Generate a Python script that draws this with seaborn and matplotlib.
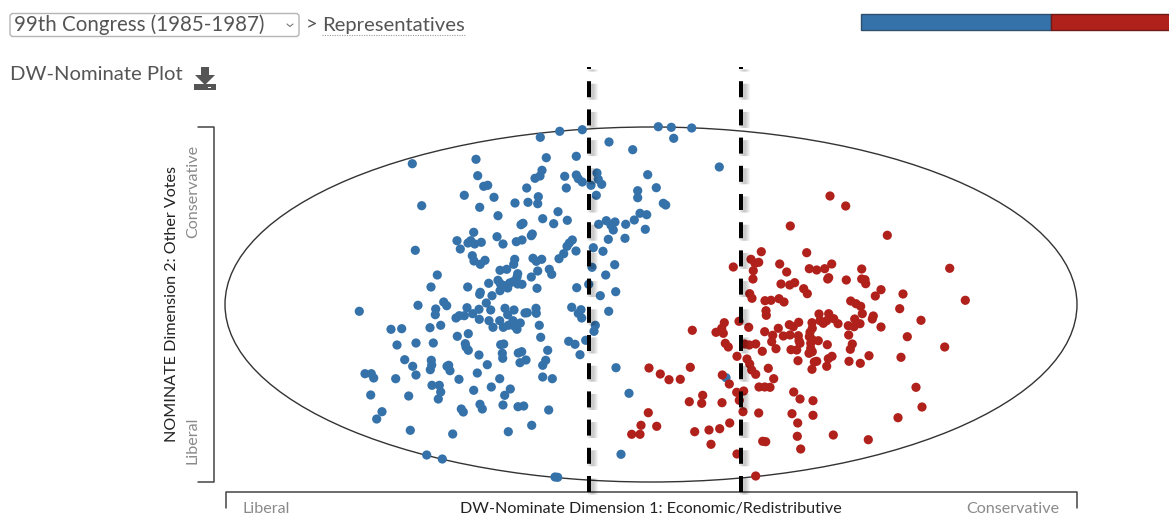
import numpy as np
import pandas as pd
import seaborn as sns
import matplotlib.pyplot as plt
import matplotlib.patheffects as pe
from matplotlib.patches import Ellipse, FancyBboxPatch, Polygon, Rectangle

# scores, in picture units from the centre of the ellipse
dem_read_1 = [-238.7,-175,-110.7,-91.3,-68.7,-42,-18.3,-104.7,-74.7,-173.3,-167.3,-163.3,-109,-111,-116,-86.3,-74.7,-72.7,-68.7,-54,
    -52.7,-49.3,-60,-84.7,-124.3,-186.7,-157,-229.3,-171.3,-136,-123,-112.7,-113.3,-54.7,-13.3,-13.3,-93,-153,-108.3,-83.7,
    -97.3,-130,-128,-52.3,-44.7,-36,-40,-37.7,-25.3,-16.7,-11,-177.3,-194,-183,-180.3,-176.3,-169.7,-154,-148,-134.7,
    -129,-119.7,-118.7,-78.7,-81.7,-84,-42.7,-26,-190.7,-235.7,-57.7,-75,-48,-87.3,-92,-178.7,-177,-170.7,-166,-136.3,
    -137.3,-118,-114.7,-109.3,-59,-36.3,-101.7,-99.3,-151,-144.3,-113.3,-213.7,-133.3,-134,-119.7,-45.3,-153,-162.3,-150.7,-146,
    -141.3,-138,-133.3,-129,-143.3,-151,-220,-183.3,-114,-74.3,-62.3,-50.7,-35.3,-170.7,-171.3,-159,-164.7,-233,-207.3,-204.3,
    -291.7,-215.3,-215.7,-184,-172,-160.3,-146,-137,-143.3,-115,-114.7,-126,-123.7,-79.3,-70,-72.7,-69.3,-42.3,-195,-191.7,
    -186.7,-178.3,-171.7,-162,-151.3,-138,-130.7,-142.7,-147.7,-158,-136.7,-134,-111.7,-55.7,-57,-260,-249.3,-221,-210.3,-182.7,
    -193.7,-110.3,-254,-235,-217.7,-185.7,-185,-182.7,-150.3,-147.3,-82.3,-76,-65.3,-103.3,-172,-148.7,-148.3,-132.7,-129.3,-71,
    -246.3,-219.7,-219.3,-163.7,-131,-125,-105.3,-108.3,-238.3,-220.7,-202.3,-204,-201,-35,-286,-279.7,-277.3,-255.3,-235,-173.7,
    -192,-151.3,-108.3,-98.7,-219,-211.7,-210.3,-177.3,-159.7,-140.7,-22,-280.3,-242.3,-212.7,-146.3,-171,-168.7,-148,-133,-127.3,
    -189.7,-187.7,-102.3,-269,-274.3,-119.3,-240.7,-198.3,-142.7,-224.3,-208.7,-96,-93.3,-30,7.3,20.3,40.7,22.7,-3.3,68.3,
    5.3,12.3,14.7,-4.3,-5.7,75]
dem_read_2 = [140.8,145.2,167.2,173.2,174.8,162.5,154.8,146.8,148.2,128.8,118.2,119.2,134.2,128.5,126.2,128.2,129.5,125.8,122.5,131.5,
    125.2,120.2,119.2,116.5,116.5,109.2,107.2,98.8,97.2,101.5,102.2,107.8,100.8,109.2,113.8,106.8,92.8,88.8,85.8,84.2,
    80.8,79.8,81.2,80.2,83.8,82.5,79.2,74.5,80.2,84.5,91.2,72.2,63.8,61.5,63.8,60.5,62.2,67.8,60.5,62.8,
    64.5,68.8,70.5,64.5,61.5,58.2,65.2,66.2,55.5,54.2,56.8,53.5,53.2,50.8,45.8,48.8,43.5,40.2,44.2,45.2,
    40.2,46.2,43.2,45.2,37.2,39.8,35.2,30.2,34.2,35.2,33.5,29.5,30.8,27.5,27.5,29.5,24.2,21.2,20.8,18.8,
    21.5,22.8,20.5,20.2,16.5,13.8,17.5,17.5,16.2,16.8,20.2,8.8,12.8,12.2,10.2,8.8,1.5,-0.8,2.5,-1.2,
    -6.8,-4.5,-10.2,-3.2,-4.8,-5.5,-3.8,-5.5,-10.2,-3.8,-8.8,-8.5,-8.2,-2.8,-5.2,-8.8,-13.5,-6.8,-13.5,-11.2,
    -11.2,-9.2,-14.8,-16.2,-16.2,-16.2,-18.5,-20.8,-22.8,-22.8,-21.5,-24.8,-20.8,-20.8,-26.8,-24.8,-24.2,-23.2,-20.8,-29.2,
    -31.8,-32.8,-40.5,-38.5,-38.5,-39.2,-42.5,-45.8,-40.2,-39.5,-36.8,-39.8,-35.8,-45.8,-50.5,-48.8,-53.8,-48.5,-47.2,-50.2,
    -55.2,-55.8,-60.5,-60.2,-58.2,-55.5,-55.8,-60.8,-61.8,-65.2,-60.8,-61.8,-66.2,-63.2,-69.2,-69.2,-73.5,-74.2,-70.5,-68.5,
    -74.8,-74.2,-72.5,-74.2,-80.8,-80.8,-87.5,-85.8,-82.5,-84.5,-88.8,-90.5,-91.5,-94.5,-90.8,-99.8,-104.5,-100.5,-102.2,-101.5,
    -104.5,-107.5,-105.5,-107.2,-114.5,-120.8,-125.8,-129.5,-127.2,-150.5,-154.5,-172.5,-172.8,-149.8,177.8,177.2,176.5,166.2,129.8,137.5,
    116.8,101.2,99.5,89.8,75.2,-73.2]

rep_read_1 = [179,194.7,139.3,236.3,110.3,155.7,100,107.7,104,82.3,102.3,128.7,135.7,158.3,165.7,173.7,180.7,210.7,298.7,102,
    177.7,176.7,195.3,210.7,214,214.7,130,138.7,143.7,152.7,156.3,230,224.3,252,314.3,98.7,101,114,120,128,
    133,199.7,205,209.7,248.7,115,115.3,168,177.7,211.3,222.3,221.3,182.7,270,73.3,88,72.3,147.7,138.3,142.3,
    161,169,175.7,172.3,187,203.7,209,197.3,203,230,97.7,127.3,41.3,65,70.7,113.7,159,161.3,121.7,132.3,
    139,147.3,197.7,256.3,158.3,161,167.3,148,120.7,74.3,77.3,93.7,98.3,104.7,176.3,201.3,293.7,125,140,145.7,
    149,159.7,159.7,199.3,111.3,158,161.3,86,218,181,177.3,250,96,147,165.7,163.3,198,209.3,175.7,98.7,
    -2,39.3,117.3,100.7,161,9.3,71.3,104.7,18,29.3,122.7,78.3,108,113.7,119,265,142.7,85.7,92.7,51.7,
    149,162,38.3,50.7,71,88.3,271,-2.7,92,107.7,141,162,247,146.7,-10,5.7,78.7,68.7,58,43.7,
    -19.3,-11,146.3,182.3,217.3,111.7,114.7,60,149.7,86,104.7]
rep_read_2 = [108.5,98.5,78.5,69.2,52.8,51.8,45.2,42.2,41.2,37.5,33.8,40.5,32.5,35.8,34.5,35.8,40.5,35.5,36.2,25.5,
    26.8,25.5,24.5,25.5,24.8,20.8,20.5,19.5,21.8,15.8,10.8,14.8,8.5,10.5,4.2,10.8,6.2,3.8,4.2,5.8,
    2.5,3.5,0.8,-1.8,-4.2,-6.2,-10.8,-9.5,-9.2,-9.2,-11.5,-14.5,-14.2,-15.8,-18.2,-16.8,-28.8,-17.8,-20.2,-22.2,
    -18.2,-16.2,-16.2,-18.8,-19.2,-14.5,-19.2,-21.2,-22.2,-22.5,-22.8,-23.8,-25.8,-27.8,-23.8,-27.2,-27.8,-23.8,-30.8,-31.5,
    -30.5,-31.2,-30.5,-32.2,-32.2,-34.8,-36.2,-36.2,-37.2,-38.8,-42.5,-39.5,-40.5,-39.5,-40.2,-39.5,-42.5,-44.2,-45.2,-45.5,
    -38.8,-38.8,-43.8,-44.8,-46.8,-48.8,-47.2,-51.8,-51.2,-51.8,-54.2,-52.8,-54.5,-56.2,-56.8,-57.5,-56.8,-58.8,-61.8,-59.5,
    -63.5,-62.8,-63.8,-65.5,-64.8,-69.5,-70.5,-69.8,-75.2,-74.8,-74.2,-79.5,-82.5,-82.5,-82.8,-82.8,-87.5,-87.8,-86.5,-90.8,
    -94.5,-96.2,-97.2,-98.8,-98.2,-95.8,-102.5,-108.2,-107.2,-108.5,-109.2,-110.8,-113.2,-118.5,-120.8,-121.8,-118.5,-124.2,-125.5,-127.2,
    -129.8,-129.8,-131.8,-130.5,-135.2,-136.8,-137.2,-139.8,-144.5,-149.5,-171.5]

# majority cutpoints on dimension 1
cut_read = [-62, 90]
seat_counts = [253, 182]

DEM_BLUE = '#3672aa'
REP_RED = '#b0211c'
TEXT = '#555555'
GREY = '#8a8a8a'

# one unit of each dimension is half the ellipse
HALF_W = 426
HALF_H = 177.5
CX = 651
CY = 304.5

df = pd.DataFrame({
    'dim1': np.r_[dem_read_1, rep_read_1] / HALF_W,
    'dim2': np.r_[dem_read_2, rep_read_2] / HALF_H,
    'party': ['D'] * len(dem_read_1) + ['R'] * len(rep_read_1),
})

sns.set_style('white')
plt.rcParams['font.family'] = ['Lato', 'DejaVu Sans']

fig = plt.figure(figsize=(11.69, 5.17), dpi=100)

# page furniture, in picture pixels
ui = fig.add_axes([0, 0, 1, 1])
ui.set_xlim(0, 1169)
ui.set_ylim(517, 0)
ui.axis('off')

# plot area
ax = fig.add_axes([0, 0, 1, 1], facecolor='none')
ax.set_xlim((0 - CX) / HALF_W, (1169 - CX) / HALF_W)
ax.set_ylim((CY - 517) / HALF_H, CY / HALF_H)
ax.axis('off')

ax.add_patch(Ellipse((0, 0), 2, 2, fill=False, edgecolor='#333333', lw=1.0, zorder=1))

sns.scatterplot(data=df, x='dim1', y='dim2', hue='party', palette={'D': DEM_BLUE, 'R': REP_RED},
                s=44, linewidth=0, legend=False, ax=ax, zorder=2)

# dashed cutlines with a soft shadow, dashes counted from the bottom
shadow = [pe.SimpleLineShadow(offset=(2.4, -1.5), shadow_color='k', alpha=0.045, linewidth=w)
          for w in (8, 6.5, 5, 3.5, 2)]
for c in cut_read:
    x = c / HALF_W
    ax.plot([x, x], [(CY - 492) / HALF_H, (CY - 67) / HALF_H], color='black', lw=2.88,
            linestyle=(0, (4, 3.05)), dash_capstyle='butt', zorder=3,
            path_effects=shadow + [pe.Normal()])

# brackets
ui.plot([198, 214, 214, 198], [127, 127, 482, 482], color='#444444', lw=1.1)
ui.plot([226, 226, 1077, 1077], [508, 492, 492, 508], color='#444444', lw=1.1)

# party balance bar runs off the right edge
blue_w = 190
red_w = blue_w * seat_counts[1] / seat_counts[0]
ui.barh(21.5, blue_w, left=861, height=16, color=DEM_BLUE, edgecolor='#2f4f6d', lw=1)
ui.barh(21.5, red_w, left=861 + blue_w, height=16, color=REP_RED, edgecolor='#6e1a16', lw=1)

# congress select box
ui.add_patch(FancyBboxPatch((10, 13.5), 289, 23, boxstyle='round,pad=0,rounding_size=3',
                            fc='white', ec='#b5b5b5', lw=1))
ui.plot([287, 290, 293], [24, 26.5, 24], color='#777777', lw=0.8)
ui.text(14, 25, '99th Congress (1985-1987)', fontsize=14.8, color=TEXT, va='center')
ui.text(306, 25, '>', fontsize=14.6, color=TEXT, va='center')
ui.text(322, 25, 'Representatives', fontsize=14.6, color=TEXT, va='center')
ui.plot([322, 465], [35, 35], color='#999999', lw=0.8, ls=(0, (1, 1.2)))

ui.text(10, 75, 'DW-Nominate Plot', fontsize=14.6, color=TEXT, va='center')

# download icon
ui.add_patch(Polygon([[201, 67], [209, 67], [209, 75], [215, 75], [205, 85], [195, 75], [201, 75]],
                     fc='#555555', ec='none'))
ui.add_patch(Rectangle((193.5, 84), 22, 6, fc='#555555', ec='none'))
ui.add_patch(Rectangle((208, 86.5), 2.5, 1.5, fc='white', ec='none'))

# axis labels
ui.text(242, 509, 'Liberal', fontsize=11.6, color=GREY, va='center')
ui.text(651, 509, 'DW-Nominate Dimension 1: Economic/Redistributive', fontsize=11.6,
        color='#222222', va='center', ha='center')
ui.text(1059, 509, 'Conservative', fontsize=11.6, color=GREY, va='center', ha='right')

ui.text(172, 304, 'NOMINATE Dimension 2: Other Votes', fontsize=11.6, color='#222222',
        rotation=90, va='center', ha='center')
ui.text(193, 191, 'Conservative', fontsize=11.6, color=GREY, rotation=90, va='center', ha='center')
ui.text(193, 440, 'Liberal', fontsize=11.6, color=GREY, rotation=90, va='center', ha='center')

plt.savefig('out.png', dpi=100)
